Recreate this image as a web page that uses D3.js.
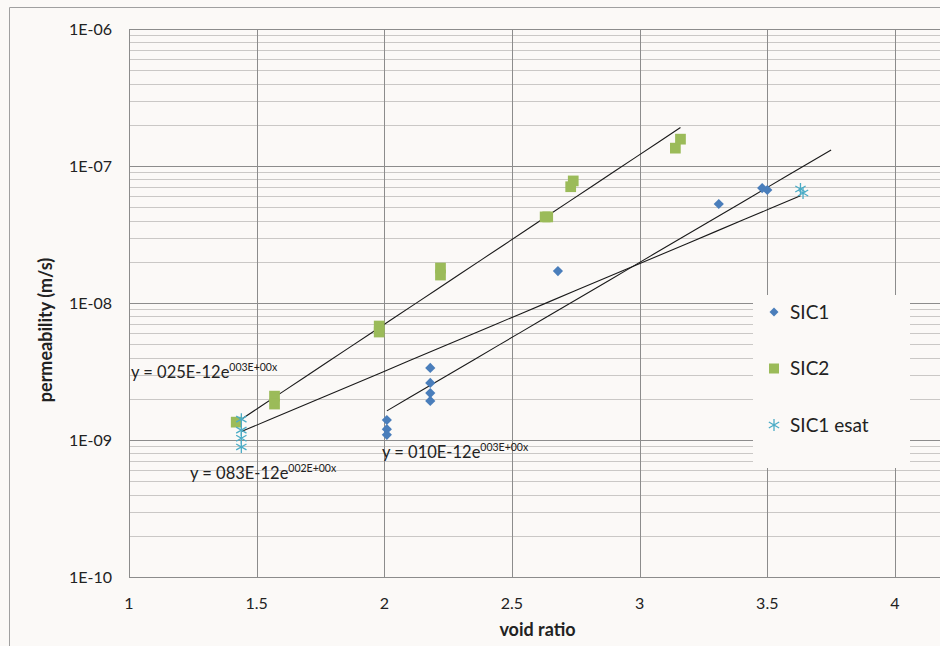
<!DOCTYPE html>
<html>
<head>
<meta charset="utf-8">
<script src="https://cdn.jsdelivr.net/npm/d3@7"></script>
<style>
  body { margin: 0; background: #fbf9f7; }
  text { font-family: Lato, "Open Sans", sans-serif; fill: #222; }
</style>
</head>
<body>
<div id="chart"></div>
<script>
// data
let sic1X = [2.01, 2.01, 2.01, 2.18, 2.18, 2.18, 2.18, 2.68, 3.31, 3.48, 3.50];
let sic1Y = [1.40e-9, 1.20e-9, 1.09e-9, 3.36e-9, 2.61e-9, 2.20e-9, 1.93e-9, 1.71e-8, 5.28e-8, 6.90e-8, 6.68e-8];

let sic2X = [1.42, 1.57, 1.57, 1.98, 1.98, 2.22, 2.22, 2.63, 2.64, 2.73, 2.74, 3.14, 3.16];
let sic2Y = [1.35e-9, 2.09e-9, 1.83e-9, 6.79e-9, 6.14e-9, 1.80e-8, 1.60e-8, 4.25e-8, 4.25e-8, 7.06e-8, 7.78e-8, 1.35e-7, 1.57e-7];

let esatX = [1.44, 1.44, 1.44, 1.44, 3.63, 3.64];
let esatY = [1.42e-9, 1.18e-9, 1.03e-9, 8.9e-10, 6.79e-8, 6.35e-8];

// exponential trendlines y = a * e^(b x)
let trendA = [1.03e-11, 2.34e-11, 8.5e-11];
let trendB = [2.52, 2.85, 1.81];
let trendFrom = [2.01, 1.43, 1.44];
let trendTo = [3.75, 3.16, 3.63];

let seriesNames = ["SIC1", "SIC2", "SIC1 esat"];
let xTicks = [1, 1.5, 2, 2.5, 3, 3.5, 4];
let yTicks = [1e-10, 1e-9, 1e-8, 1e-7, 1e-6];
let yTickLabels = ["1E-10", "1E-09", "1E-08", "1E-07", "1E-06"];

let W = 940, H = 646;
let margin = { top: 29, left: 129 };
let plotW = 817, plotH = 548;

let svg = d3.select("#chart").append("svg")
    .attr("width", W)
    .attr("height", H);

// outer chart border (cut off on the right)
svg.append("path")
    .attr("d", `M9.5,${H} V7.5 H${W}`)
    .attr("fill", "none")
    .attr("stroke", "#a0a0a0");

let g = svg.append("g")
    .attr("transform", `translate(${margin.left},${margin.top})`);

let x = d3.scaleLinear().domain([1, 4.2]).range([0, plotW]);
let y = d3.scaleLog().domain([1e-10, 1e-6]).range([plotH, 0]);

// minor horizontal grid
let minor = [];
for (let e = -10; e < -6; e++) {
    for (let m = 2; m <= 9; m++) minor.push(m * Math.pow(10, e));
}
g.append("g").selectAll("line")
    .data(minor)
    .enter().append("line")
    .attr("x1", 0).attr("x2", plotW)
    .attr("y1", d => Math.round(y(d)) + 0.5)
    .attr("y2", d => Math.round(y(d)) + 0.5)
    .attr("stroke", "#cac8c6");

// major grid
g.append("g").selectAll("line")
    .data(yTicks)
    .enter().append("line")
    .attr("x1", 0).attr("x2", plotW)
    .attr("y1", d => Math.round(y(d)) + 0.5)
    .attr("y2", d => Math.round(y(d)) + 0.5)
    .attr("stroke", "#8c8c8c");

g.append("g").selectAll("line")
    .data(xTicks)
    .enter().append("line")
    .attr("y1", 0).attr("y2", plotH)
    .attr("x1", d => Math.round(x(d)) + 0.5)
    .attr("x2", d => Math.round(x(d)) + 0.5)
    .attr("stroke", "#8c8c8c");

// tick labels
g.append("g").selectAll("text")
    .data(yTicks)
    .enter().append("text")
    .attr("x", -17)
    .attr("y", d => y(d))
    .attr("dy", "0.35em")
    .attr("text-anchor", "end")
    .style("font-size", "16px")
    .text((d, i) => yTickLabels[i]);

g.append("g").selectAll("text")
    .data(xTicks)
    .enter().append("text")
    .attr("x", d => x(d))
    .attr("y", plotH + 32)
    .attr("text-anchor", "middle")
    .style("font-size", "16px")
    .text(d => d);

// axis titles
svg.append("text")
    .attr("transform", "translate(52,330) rotate(-90)")
    .attr("text-anchor", "middle")
    .style("font-size", "18px")
    .style("font-weight", "bold")
    .text("permeability (m/s)");

svg.append("text")
    .attr("x", margin.left + plotW / 2)
    .attr("y", 636)
    .attr("text-anchor", "middle")
    .style("font-size", "18px")
    .style("font-weight", "bold")
    .text("void ratio");

// trendlines
let line = d3.line().x(d => x(d[0])).y(d => y(d[1]));
trendA.forEach((a, i) => {
    let pts = d3.range(0, 21).map(k => {
        let xv = trendFrom[i] + (trendTo[i] - trendFrom[i]) * k / 20;
        return [xv, a * Math.exp(trendB[i] * xv)];
    });
    g.append("path")
        .attr("d", line(pts))
        .attr("fill", "none")
        .attr("stroke", "#1a1a1a")
        .attr("stroke-width", 1.1);
});

// markers
let blue = "#4a7ebb", green = "#9bbb59", cyan = "#4bacc6";
let diamond = d3.symbol().type(d3.symbolSquare).size(52);
let square = d3.symbol().type(d3.symbolSquare).size(115);
let star = d3.symbol().type(d3.symbolAsterisk).size(100);

g.append("g").selectAll("path")
    .data(sic2X.map((v, i) => [v, sic2Y[i]]))
    .enter().append("path")
    .attr("d", square)
    .attr("transform", d => `translate(${x(d[0])},${y(d[1])})`)
    .attr("fill", green);

g.append("g").selectAll("path")
    .data(sic1X.map((v, i) => [v, sic1Y[i]]))
    .enter().append("path")
    .attr("d", diamond)
    .attr("transform", d => `translate(${x(d[0])},${y(d[1])}) rotate(45)`)
    .attr("fill", blue);

g.append("g").selectAll("path")
    .data(esatX.map((v, i) => [v, esatY[i]]))
    .enter().append("path")
    .attr("d", star)
    .attr("transform", d => `translate(${x(d[0])},${y(d[1])})`)
    .attr("fill", "none")
    .attr("stroke", cyan)
    .attr("stroke-width", 1.3);

// trendline equations
let eqs = [
    { base: "y = 025E-12e", sup: "003E+00x", x: 131, y: 378 },
    { base: "y = 083E-12e", sup: "002E+00x", x: 190, y: 479 },
    { base: "y = 010E-12e", sup: "003E+00x", x: 382, y: 458 }
];
eqs.forEach(d => {
    let t = svg.append("text")
        .attr("x", d.x)
        .attr("y", d.y)
        .style("font-size", "16.5px");
    t.append("tspan").text(d.base);
    t.append("tspan")
        .attr("dy", -7)
        .style("font-size", "10.5px")
        .text(d.sup);
});

// legend
let legend = svg.append("g");
legend.append("rect")
    .attr("x", 753).attr("y", 295)
    .attr("width", 157).attr("height", 173)
    .attr("fill", "#fbf9f7");

let legendSym = [
    d3.symbol().type(d3.symbolSquare).size(40),
    d3.symbol().type(d3.symbolSquare).size(100),
    d3.symbol().type(d3.symbolAsterisk).size(100)
];
let legendCol = [blue, green, cyan];
seriesNames.forEach((name, i) => {
    let yy = 312 + i * 56.5;
    let m = legend.append("path")
        .attr("d", legendSym[i])
        .attr("transform", `translate(774,${yy})` + (i === 0 ? " rotate(45)" : ""));
    if (i === 2) m.attr("fill", "none").attr("stroke", legendCol[i]).attr("stroke-width", 1.3);
    else m.attr("fill", legendCol[i]);
    legend.append("text")
        .attr("x", 790)
        .attr("y", yy)
        .attr("dy", "0.35em")
        .style("font-size", "19px")
        .text(name);
});
</script>
</body>
</html>
